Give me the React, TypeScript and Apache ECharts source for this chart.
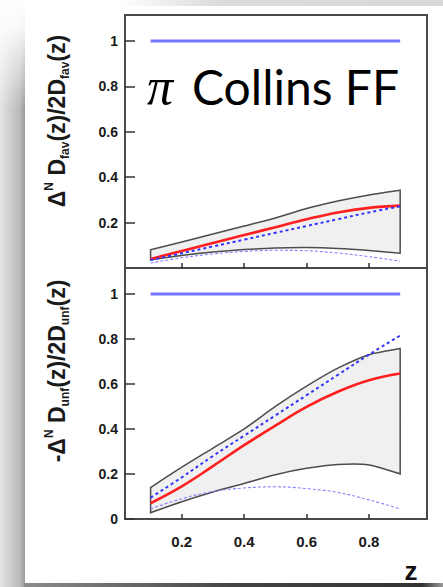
import React, { useEffect, useRef } from "react";
import * as echarts from "echarts";

// z values (x axis)
const zVals = [0.1, 0.2, 0.3, 0.4, 0.5, 0.6, 0.7, 0.8, 0.9];

// favoured panel
const favUpper = [0.08, 0.115, 0.15, 0.185, 0.22, 0.262, 0.295, 0.322, 0.343];
const favLower = [0.036, 0.055, 0.07, 0.081, 0.088, 0.09, 0.086, 0.077, 0.065];
const favRed = [0.04, 0.075, 0.11, 0.145, 0.18, 0.215, 0.245, 0.265, 0.275];
const favDashed = [0.035, 0.065, 0.095, 0.125, 0.155, 0.185, 0.215, 0.245, 0.272];
const favDotted = [0.022, 0.045, 0.062, 0.073, 0.078, 0.076, 0.066, 0.05, 0.03];

// unfavoured panel
const unfUpper = [0.14, 0.23, 0.315, 0.4, 0.5, 0.59, 0.67, 0.73, 0.757];
const unfLower = [0.028, 0.077, 0.12, 0.158, 0.197, 0.225, 0.242, 0.24, 0.2];
const unfRed = [0.07, 0.145, 0.235, 0.328, 0.415, 0.498, 0.565, 0.616, 0.646];
const unfDashed = [0.095, 0.185, 0.28, 0.37, 0.46, 0.55, 0.64, 0.73, 0.815];
const unfDotted = [0.045, 0.09, 0.122, 0.138, 0.143, 0.135, 0.118, 0.085, 0.045];

// positivity bound line
const boundX = [0.1, 0.9];
const boundY = [1, 1];

const xTicks = [0.2, 0.4, 0.6, 0.8];
const yTicksTop = [0.2, 0.4, 0.6, 0.8, 1];
const yTicksBottom = [0, 0.2, 0.4, 0.6, 0.8, 1];

const pairs = (xs: number[], ys: number[]) => xs.map((x, i) => [x, ys[i]]);

const FONT = "'Liberation Sans', Arial, Helvetica, sans-serif";

// Catmull-Rom spline through pixel points -> SVG cubic segments
function splineSegs(pts: number[][], t = 0.8): string {
  let d = "";
  const n = pts.length;
  for (let i = 0; i < n - 1; i++) {
    const p0 = pts[Math.max(i - 1, 0)];
    const p1 = pts[i];
    const p2 = pts[i + 1];
    const p3 = pts[Math.min(i + 2, n - 1)];
    const c1x = p1[0] + ((p2[0] - p0[0]) / 6) * t;
    const c1y = p1[1] + ((p2[1] - p0[1]) / 6) * t;
    const c2x = p2[0] - ((p3[0] - p1[0]) / 6) * t;
    const c2y = p2[1] - ((p3[1] - p1[1]) / 6) * t;
    d += ` C ${c1x} ${c1y} ${c2x} ${c2y} ${p2[0]} ${p2[1]}`;
  }
  return d;
}

function bandSeries(idx: number, upper: number[], lower: number[]) {
  return {
    type: "custom",
    xAxisIndex: idx,
    yAxisIndex: idx,
    silent: true,
    coordinateSystem: "cartesian2d",
    data: zVals.map((z, i) => [z, lower[i], upper[i]]),
    encode: { x: 0, y: [1, 2] },
    renderItem: (params: any, api: any) => {
      if (params.dataIndex !== 0) return null;
      const up = zVals.map((z, i) => api.coord([z, upper[i]]));
      const lo = zVals.map((z, i) => api.coord([z, lower[i]])).reverse();
      let d = `M ${up[0][0]} ${up[0][1]}`;
      d += splineSegs(up);
      d += ` L ${lo[0][0]} ${lo[0][1]}`;
      d += splineSegs(lo);
      d += " Z";
      return {
        type: "path",
        shape: { pathData: d },
        style: { fill: "#f0f0f0", stroke: "#4d4d4d", lineWidth: 1.5 },
      };
    },
  };
}

function panelSeries(
  idx: number,
  upper: number[],
  lower: number[],
  red: number[],
  dashed: number[],
  dotted: number[]
) {
  const base = { xAxisIndex: idx, yAxisIndex: idx, symbol: "none", silent: true };
  return [
    bandSeries(idx, upper, lower),
    {
      ...base,
      type: "line",
      smooth: 0.4,
      data: pairs(zVals, dotted),
      lineStyle: { color: "#8282ff", width: 1.1, type: [3, 2] },
    },
    {
      ...base,
      type: "line",
      smooth: 0.4,
      data: pairs(zVals, red),
      lineStyle: { color: "#ff1f1f", width: 2.6 },
    },
    {
      ...base,
      type: "line",
      smooth: 0.4,
      data: pairs(zVals, dashed),
      lineStyle: { color: "#3434ff", width: 2, type: [3, 3] },
    },
    {
      ...base,
      type: "line",
      data: pairs(boundX, boundY),
      lineStyle: { color: "#7474ff", width: 3 },
    },
  ];
}

function xAxis(idx: number, showLabels: boolean) {
  return {
    type: "value",
    gridIndex: idx,
    min: 0.018,
    max: 0.986,
    axisLine: { show: false },
    splitLine: { show: false },
    axisTick: {
      show: true,
      inside: true,
      length: 5,
      customValues: xTicks,
      lineStyle: { color: "#333", width: 1.5 },
    },
    axisLabel: {
      show: showLabels,
      customValues: xTicks,
      margin: 15,
      fontFamily: FONT,
      fontWeight: "bold",
      fontSize: 15,
      color: "#1a1a1a",
    },
  };
}

function yAxis(idx: number, ticks: number[]) {
  return {
    type: "value",
    gridIndex: idx,
    min: 0,
    max: 1.115,
    axisLine: { show: false },
    splitLine: { show: false },
    axisTick: {
      show: true,
      inside: true,
      length: 10,
      customValues: ticks,
      lineStyle: { color: "#333", width: 1.5 },
    },
    axisLabel: {
      show: true,
      customValues: ticks,
      margin: 7,
      fontFamily: FONT,
      fontWeight: "bold",
      fontSize: 14,
      color: "#1a1a1a",
    },
  };
}

const nameRich = {
  m: { fontFamily: FONT, fontWeight: "bold", fontSize: 23, lineHeight: 28, fill: "#1a1a1a", color: "#1a1a1a" },
  sub: { fontFamily: FONT, fontWeight: "bold", fontSize: 12, lineHeight: 13, verticalAlign: "bottom", fill: "#1a1a1a", color: "#1a1a1a" },
  sup: { fontFamily: FONT, fontWeight: "bold", fontSize: 12, lineHeight: 13, verticalAlign: "top", fill: "#1a1a1a", color: "#1a1a1a" },
};

export default function App() {
  const ref = useRef<HTMLDivElement>(null);
  useEffect(() => {
    if (!ref.current) return;
    const chart = echarts.init(ref.current, null, { renderer: "svg" });
    chart.setOption({
      animation: false,
      backgroundColor: "#ffffff",
      grid: [
        { left: 125, top: 15, width: 302, height: 253, show: true, borderColor: "#4a4a4a", borderWidth: 2, backgroundColor: "transparent", containLabel: false },
        { left: 125, top: 268, width: 302, height: 251, show: true, borderColor: "#4a4a4a", borderWidth: 2, backgroundColor: "transparent", containLabel: false },
      ],
      xAxis: [xAxis(0, false), xAxis(1, true)],
      yAxis: [yAxis(0, yTicksTop), yAxis(1, yTicksBottom)],
      series: [
        ...panelSeries(0, favUpper, favLower, favRed, favDashed, favDotted),
        ...panelSeries(1, unfUpper, unfLower, unfRed, unfDashed, unfDotted),
      ],
      graphic: [
        {
          type: "rect",
          silent: true,
          shape: { x: 0, y: 0, width: 25, height: 587 },
          style: {
            fill: new echarts.graphic.LinearGradient(0, 0, 1, 0, [
              { offset: 0, color: "#e4e4e4" },
              { offset: 0.8, color: "#b8b8b8" },
              { offset: 1, color: "#9a9a9a" },
            ]),
          },
        },
        {
          type: "rect",
          silent: true,
          shape: { x: 0, y: 0, width: 25, height: 110 },
          style: {
            fill: new echarts.graphic.LinearGradient(0, 0, 0, 1, [
              { offset: 0, color: "rgba(255,255,255,1)" },
              { offset: 0.25, color: "rgba(255,255,255,0.9)" },
              { offset: 1, color: "rgba(255,255,255,0)" },
            ]),
          },
        },
        {
          type: "rect",
          silent: true,
          shape: { x: 120, y: 0, width: 323, height: 6 },
          style: {
            fill: new echarts.graphic.LinearGradient(0, 0, 1, 0, [
              { offset: 0, color: "rgba(215,215,215,0)" },
              { offset: 0.3, color: "#dcdcdc" },
              { offset: 1, color: "#d8d8d8" },
            ]),
          },
        },
        {
          type: "rect",
          silent: true,
          shape: { x: 24, y: 583, width: 419, height: 4 },
          style: {
            fill: new echarts.graphic.LinearGradient(0, 0, 1, 0, [
              { offset: 0, color: "#8c8c8c" },
              { offset: 0.5, color: "#444" },
              { offset: 0.95, color: "#333" },
              { offset: 1, color: "#999" },
            ]),
          },
        },
        {
          type: "text",
          silent: true,
          x: 57,
          y: 121,
          rotation: Math.PI / 2,
          style: {
            text: "{m|Δ}{sup|N}{m| D}{sub|fav}{m|(z)/2D}{sub|fav}{m|(z)}",
            align: "center",
            verticalAlign: "middle",
            rich: nameRich,
          },
        },
        {
          type: "text",
          silent: true,
          x: 57,
          y: 371,
          rotation: Math.PI / 2,
          style: {
            text: "{m|-Δ}{sup|N}{m| D}{sub|unf}{m|(z)/2D}{sub|unf}{m|(z)}",
            align: "center",
            verticalAlign: "middle",
            rich: nameRich,
          },
        },
        {
          type: "text",
          silent: true,
          x: 147,
          y: 86,
          style: {
            text: "π",
            fontFamily: "'Liberation Serif', 'DejaVu Serif', serif",
            fontStyle: "italic",
            fontSize: 52,
            fill: "#000",
            align: "left",
            verticalAlign: "middle",
          },
        },
        {
          type: "text",
          silent: true,
          x: 192,
          y: 86,
          style: {
            text: "Collins FF",
            fontFamily: "Lato, 'Open Sans', sans-serif",
            fontSize: 48,
            fill: "#000",
            align: "left",
            verticalAlign: "middle",
          },
        },
        {
          type: "text",
          silent: true,
          x: 411,
          y: 571,
          style: {
            text: "z",
            fontFamily: FONT,
            fontWeight: "bold",
            fontSize: 26,
            fill: "#111",
            align: "center",
            verticalAlign: "middle",
          },
        },
      ],
    });
    return () => chart.dispose();
  }, []);
  return (
    <div
      ref={ref}
      style={{ position: "fixed", left: 0, top: 0, width: 443, height: 587 }}
    />
  );
}
